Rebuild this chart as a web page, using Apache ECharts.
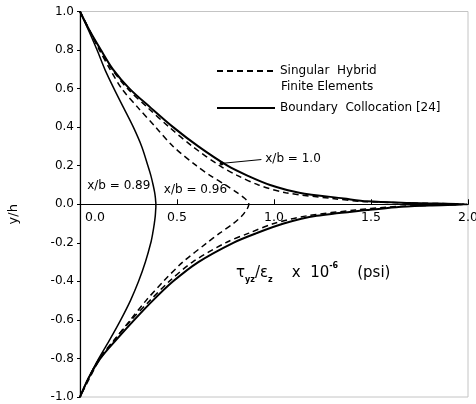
<!DOCTYPE html>
<html>
<head>
<meta charset="utf-8">
<script src="https://cdn.jsdelivr.net/npm/echarts@6/dist/echarts.min.js"></script>
<style>
html,body{margin:0;padding:0;background:#fff;}
#chart{width:476px;height:404px;}
</style>
</head>
<body>
<div id="chart"></div>
<script>
// y/h levels shared by all curves (top edge to bottom edge)
const yLevels = [1.0, 0.9, 0.8, 0.7, 0.6, 0.5, 0.4, 0.3, 0.2, 0.15, 0.1, 0.06, 0.03, 0.015, 0.007, 0,
  -0.007, -0.015, -0.03, -0.06, -0.1, -0.15, -0.2, -0.3, -0.4, -0.5, -0.6, -0.7, -0.8, -0.9, -1.0];
// Boundary collocation, x/b = 0.89
const bc089 = [0, 0.045, 0.088, 0.128, 0.175, 0.225, 0.275, 0.318, 0.35, 0.365, 0.377, 0.385, 0.389, 0.39, 0.391, 0.391,
  0.391, 0.391, 0.39, 0.388, 0.383, 0.375, 0.365, 0.337, 0.302, 0.26, 0.21, 0.155, 0.097, 0.045, 0];
// Singular hybrid FE, x/b = 0.96
const fe096 = [0, 0.05, 0.1, 0.155, 0.215, 0.3, 0.39, 0.48, 0.6, 0.67, 0.75, 0.81, 0.85, 0.865, 0.869, 0.87,
  0.869, 0.866, 0.858, 0.835, 0.79, 0.72, 0.655, 0.53, 0.43, 0.34, 0.26, 0.18, 0.105, 0.05, 0];
// Singular hybrid FE, x/b = 1.0
const fe100 = [0, 0.05, 0.105, 0.165, 0.245, 0.35, 0.46, 0.58, 0.72, 0.81, 0.92, 1.06, 1.3, 1.45, 1.68, 1.98,
  1.75, 1.58, 1.42, 1.17, 1.0, 0.87, 0.75, 0.58, 0.46, 0.36, 0.265, 0.18, 0.1, 0.045, 0];
// Boundary collocation, x/b = 1.0
const bc100 = [0, 0.05, 0.108, 0.17, 0.255, 0.365, 0.48, 0.61, 0.76, 0.86, 0.98, 1.13, 1.36, 1.48, 1.7, 2.0,
  1.8, 1.63, 1.48, 1.22, 1.05, 0.91, 0.79, 0.61, 0.48, 0.375, 0.28, 0.19, 0.105, 0.045, 0];
const xTicks = [0, 0.5, 1.0, 1.5, 2.0];
const yTicks = [-1.0, -0.8, -0.6, -0.4, -0.2, 0, 0.2, 0.4, 0.6, 0.8, 1.0];
const nameFE = 'Singular  Hybrid';
const nameBC = 'Boundary  Collocation [24]';

const pairs = xs => xs.map((x, i) => [x, yLevels[i]]);
const FONT = 'DejaVu Sans';
const GRID_TOP = 11.5, GRID_BOTTOM = 7, H = 404;

const chart = echarts.init(document.getElementById('chart'), null, {renderer: 'canvas'});
const lbl = {show: true, color: '#000', fontSize: 12, fontFamily: FONT, formatter: p => p.name};
chart.setOption({
  animation: false,
  backgroundColor: '#fff',
  textStyle: {fontFamily: FONT},
  grid: {left: 80, right: 8, top: GRID_TOP, bottom: GRID_BOTTOM, show: true, borderColor: '#c4c4c4', borderWidth: 1,
    outerBoundsMode: 'none'},
  title: {
    text: '{t|τ}{s|yz}{t|/ε}{s|z}{t|    x  10}{p|-6}{t|    (psi)}',
    left: 231, top: 257,
    textStyle: {
      fontWeight: 'normal',
      rich: {
        t: {fontSize: 15, fontFamily: FONT, color: '#000', lineHeight: 22, fontWeight: 'normal'},
        s: {fontSize: 8, fontFamily: FONT, color: '#000', verticalAlign: 'bottom', lineHeight: 12, fontWeight: 'bold'},
        p: {fontSize: 8, fontFamily: FONT, color: '#000', verticalAlign: 'top', lineHeight: 12, fontWeight: 'bold'}
      }
    }
  },
  graphic: [{
    type: 'text', left: 281, top: 81,
    style: {text: 'Finite Elements', fontSize: 12, fontFamily: FONT, fill: '#000'}
  }],
  legend: {
    orient: 'vertical', left: 216, top: 65, padding: 0, itemWidth: 58, itemHeight: 12, itemGap: 25,
    data: [nameFE, nameBC],
    itemStyle: {opacity: 0},
    textStyle: {fontSize: 12, fontFamily: FONT, color: '#000'},
    selectedMode: false
  },
  xAxis: {
    type: 'value', min: 0, max: 2, interval: 0.5,
    position: 'bottom',
    offset: -(H - GRID_TOP - GRID_BOTTOM) / 2,
    axisLine: {onZero: false, lineStyle: {color: '#000', width: 1.2}},
    axisTick: {show: true, inside: true, length: 5, lineStyle: {color: '#000'}},
    axisLabel: {show: true, color: '#000', fontSize: 12.5, fontFamily: FONT, margin: 7, alignMinLabel: 'left',
      formatter: v => (v === 0 ? '{a|0.0}' : v.toFixed(1)),
      rich: {a: {fontSize: 12.5, fontFamily: FONT, color: '#000', padding: [0, 0, 0, 5]}}},
    splitLine: {show: false}
  },
  yAxis: {
    type: 'value', min: -1, max: 1, interval: 0.2,
    name: 'y/h', nameLocation: 'middle', nameGap: 60, nameRotate: 90,
    nameTextStyle: {color: '#000', fontSize: 13, fontFamily: FONT, padding: [0, 0, 0, -20]},
    axisLine: {show: true, lineStyle: {color: '#000', width: 1.2}},
    axisTick: {show: true, inside: false, length: 3, lineStyle: {color: '#000'}},
    axisLabel: {color: '#000', fontSize: 12, fontFamily: FONT, margin: 6,
      formatter: v => (Math.abs(v) < 1e-9 ? 0 : v).toFixed(1)},
    splitLine: {show: false}
  },
  series: [
    {
      name: nameBC, type: 'line', data: pairs(bc089), symbol: 'none', smooth: 0.3,
      lineStyle: {color: '#000', width: 1.5, type: 'solid'}, itemStyle: {color: '#000'},
      markPoint: {symbolSize: 0, label: lbl, data: [{name: 'x/b = 0.89', coord: [0.2, 0.095]}]}
    },
    {
      name: nameFE, type: 'line', data: pairs(fe096), symbol: 'none', smooth: 0.3,
      lineStyle: {color: '#000', width: 1.5, type: [6, 4]}, itemStyle: {color: '#000'},
      markPoint: {symbolSize: 0, label: lbl, data: [{name: 'x/b = 0.96', coord: [0.595, 0.075]}]}
    },
    {
      name: nameFE, type: 'line', data: pairs(fe100), symbol: 'none', smooth: 0.3,
      lineStyle: {color: '#000', width: 1.5, type: [6, 4]}, itemStyle: {color: '#000'}
    },
    {
      name: nameBC, type: 'line', data: pairs(bc100), symbol: 'none', smooth: 0.3,
      lineStyle: {color: '#000', width: 2, type: 'solid'}, itemStyle: {color: '#000'},
      markPoint: {symbolSize: 0, label: Object.assign({}, lbl, {position: 'right', distance: 0}),
        data: [{name: 'x/b = 1.0', coord: [0.955, 0.234]}]},
      markLine: {
        silent: true, symbol: ['none', 'circle'], symbolSize: 4,
        lineStyle: {color: '#000', width: 1, type: 'solid'}, label: {show: false},
        data: [[{coord: [0.935, 0.232]}, {coord: [0.73, 0.212]}]]
      }
    }
  ]
});
</script>
</body>
</html>
